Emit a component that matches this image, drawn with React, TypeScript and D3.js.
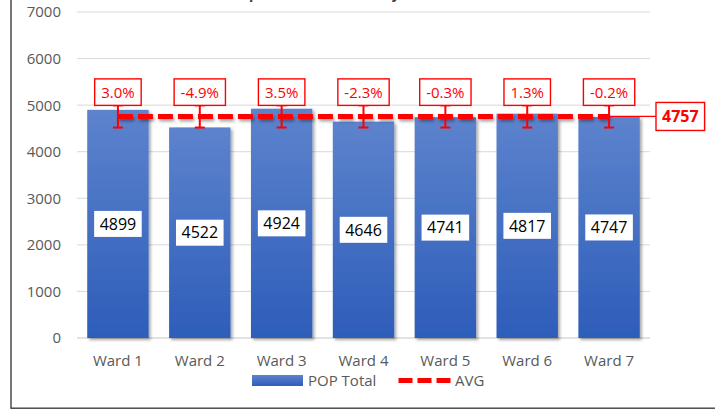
import * as d3 from "d3";

// --- Data ---
const wards = ["Ward 1", "Ward 2", "Ward 3", "Ward 4", "Ward 5", "Ward 6", "Ward 7"];
const popTotal = [4899, 4522, 4924, 4646, 4741, 4817, 4747];
const avgValue = 4757;
const deviationLabels = ["3.0%", "-4.9%", "3.5%", "-2.3%", "-0.3%", "1.3%", "-0.2%"];
const yTicks = [0, 1000, 2000, 3000, 4000, 5000, 6000, 7000];
const errorPct = 0.05; // error bars: +/- 5% of the average

// --- Styles ---
const W = 715;
const H = 409;
const FONT = "'Open Sans', sans-serif";
const TEXT_GRAY = "#595959";
const RED = "#ff0000";
const PLOT = { left: 77, right: 650, top: 12, bottom: 338 };

let ctx: CanvasRenderingContext2D | null = null;
function textWidth(text: string, font: string): number {
  if (!ctx) ctx = document.createElement("canvas").getContext("2d");
  if (!ctx) return text.length * 8.5;
  ctx.font = font;
  return ctx.measureText(text).width;
}

export default function App() {
  const x = d3
    .scaleBand<string>()
    .domain(wards)
    .range([PLOT.left, PLOT.right])
    .paddingInner(0.25)
    .paddingOuter(0.125);
  const y = d3.scaleLinear().domain([0, 7000]).range([PLOT.bottom, PLOT.top]);

  const cx = (w: string) => (x(w) ?? 0) + x.bandwidth() / 2;
  const avgY = y(avgValue);
  const errTop = y(avgValue * (1 + errorPct));
  const errBottom = y(avgValue * (1 - errorPct));

  const avgLine = d3
    .line<string>()
    .x((w) => cx(w))
    .y(() => avgY);

  const lastX = cx(wards[wards.length - 1]);
  const avgText = String(avgValue);
  const avgBoxW = textWidth(avgText, `bold 16px ${FONT}`) + 12;
  const avgBoxX = 656;

  return (
    <div style={{ position: "absolute", left: 0, top: 0 }}>
      <svg width={W} height={H} style={{ display: "block", background: "#fff" }}>
        <defs>
          <linearGradient id="barGrad" x1="0" y1="0" x2="0" y2="1">
            <stop offset="0" stopColor="#5d83cd" />
            <stop offset="1" stopColor="#2d5db9" />
          </linearGradient>
          <filter id="shadow" x="-20%" y="-20%" width="140%" height="140%">
            <feDropShadow dx="2" dy="2" stdDeviation="1.8" floodColor="#000" floodOpacity="0.35" />
          </filter>
          {/* user-space region so a flat horizontal line still gets a shadow */}
          <filter id="lineShadow" filterUnits="userSpaceOnUse" x={0} y={0} width={W} height={H}>
            <feDropShadow dx="1.5" dy="2.5" stdDeviation="1.8" floodColor="#000" floodOpacity="0.35" />
          </filter>
        </defs>

        {/* outer frame */}
        <rect x={11} y={-20} width={W + 20} height={428.2} fill="none" stroke="#404040" strokeWidth={1.4} />

        {/* cut-off title */}
        <text
          x={336}
          y={-1}
          textAnchor="middle"
          fontFamily={FONT}
          fontWeight="bold"
          fontSize={14}
          fill="#404040"
        >
          Population Deviation by Ward
        </text>

        {/* gridlines + y labels */}
        {yTicks.map((t) => (
          <g key={t}>
            <line
              x1={PLOT.left}
              x2={PLOT.right}
              y1={y(t)}
              y2={y(t)}
              stroke="#d9d9d9"
              strokeWidth={t === 0 ? 1.6 : 1}
            />
            <text
              x={61}
              y={y(t)}
              dy="0.36em"
              textAnchor="end"
              fontFamily={FONT}
              fontSize={15}
              fill={TEXT_GRAY}
            >
              {t}
            </text>
          </g>
        ))}

        {/* bars */}
        {wards.map((w, i) => (
          <rect
            key={w}
            x={x(w)}
            y={y(popTotal[i])}
            width={x.bandwidth()}
            height={y(0) - y(popTotal[i])}
            fill="url(#barGrad)"
            filter="url(#shadow)"
          />
        ))}

        {/* x labels */}
        {wards.map((w) => (
          <text
            key={w}
            x={cx(w)}
            y={366}
            textAnchor="middle"
            fontFamily={FONT}
            fontSize={15}
            fill={TEXT_GRAY}
          >
            {w}
          </text>
        ))}

        {/* value labels */}
        {wards.map((w, i) => {
          const label = String(popTotal[i]);
          const bw = textWidth(label, `16px ${FONT}`) + 11;
          const my = (y(popTotal[i]) + y(0)) / 2;
          return (
            <g key={w}>
              <rect x={cx(w) - bw / 2} y={my - 13} width={bw} height={26} fill="#fff" />
              <text
                x={cx(w)}
                y={my}
                dy="0.36em"
                textAnchor="middle"
                fontFamily={FONT}
                fontSize={16}
                fill="#000"
              >
                {label}
              </text>
            </g>
          );
        })}

        {/* avg connector to label */}
        <line x1={lastX} x2={avgBoxX} y1={avgY} y2={avgY} stroke={RED} strokeWidth={1.3} />

        {/* average dashed line */}
        <path
          d={avgLine(wards) ?? ""}
          fill="none"
          stroke={RED}
          strokeWidth={5}
          strokeDasharray="15 5"
          filter="url(#lineShadow)"
        />

        {/* error bars */}
        {wards.map((w) => (
          <g key={w} stroke={RED} strokeWidth={2}>
            <line x1={cx(w)} x2={cx(w)} y1={errTop} y2={errBottom} />
            <line x1={cx(w) - 5} x2={cx(w) + 5} y1={errTop} y2={errTop} />
            <line x1={cx(w) - 5} x2={cx(w) + 5} y1={errBottom} y2={errBottom} />
          </g>
        ))}

        {/* deviation labels */}
        {wards.map((w, i) => {
          const label = deviationLabels[i];
          const bw = textWidth(label, `15px ${FONT}`) + 13;
          const bh = 26.5;
          return (
            <g key={w}>
              <rect
                x={cx(w) - bw / 2}
                y={errTop - bh}
                width={bw}
                height={bh}
                fill="#fff"
                stroke={RED}
                strokeWidth={1.4}
              />
              <text
                x={cx(w)}
                y={errTop - bh / 2}
                dy="0.36em"
                textAnchor="middle"
                fontFamily={FONT}
                fontSize={15}
                fill={RED}
              >
                {label}
              </text>
            </g>
          );
        })}

        {/* avg label */}
        <rect
          x={avgBoxX}
          y={avgY - 14}
          width={avgBoxW}
          height={28}
          fill="#fff"
          stroke={RED}
          strokeWidth={1.4}
        />
        <text
          x={avgBoxX + avgBoxW / 2}
          y={avgY}
          dy="0.36em"
          textAnchor="middle"
          fontFamily={FONT}
          fontWeight="bold"
          fontSize={16}
          fill={RED}
        >
          {avgText}
        </text>

        {/* legend */}
        <rect x={252} y={375} width={51} height={11} fill="url(#barGrad)" />
        <text x={308} y={380.5} dy="0.36em" fontFamily={FONT} fontSize={15} fill={TEXT_GRAY}>
          POP Total
        </text>
        <line x1={398.5} x2={452} y1={380.5} y2={380.5} stroke={RED} strokeWidth={5} strokeDasharray="14 5" />
        <text x={455} y={380.5} dy="0.36em" fontFamily={FONT} fontSize={15} fill={TEXT_GRAY}>
          AVG
        </text>
      </svg>
    </div>
  );
}
